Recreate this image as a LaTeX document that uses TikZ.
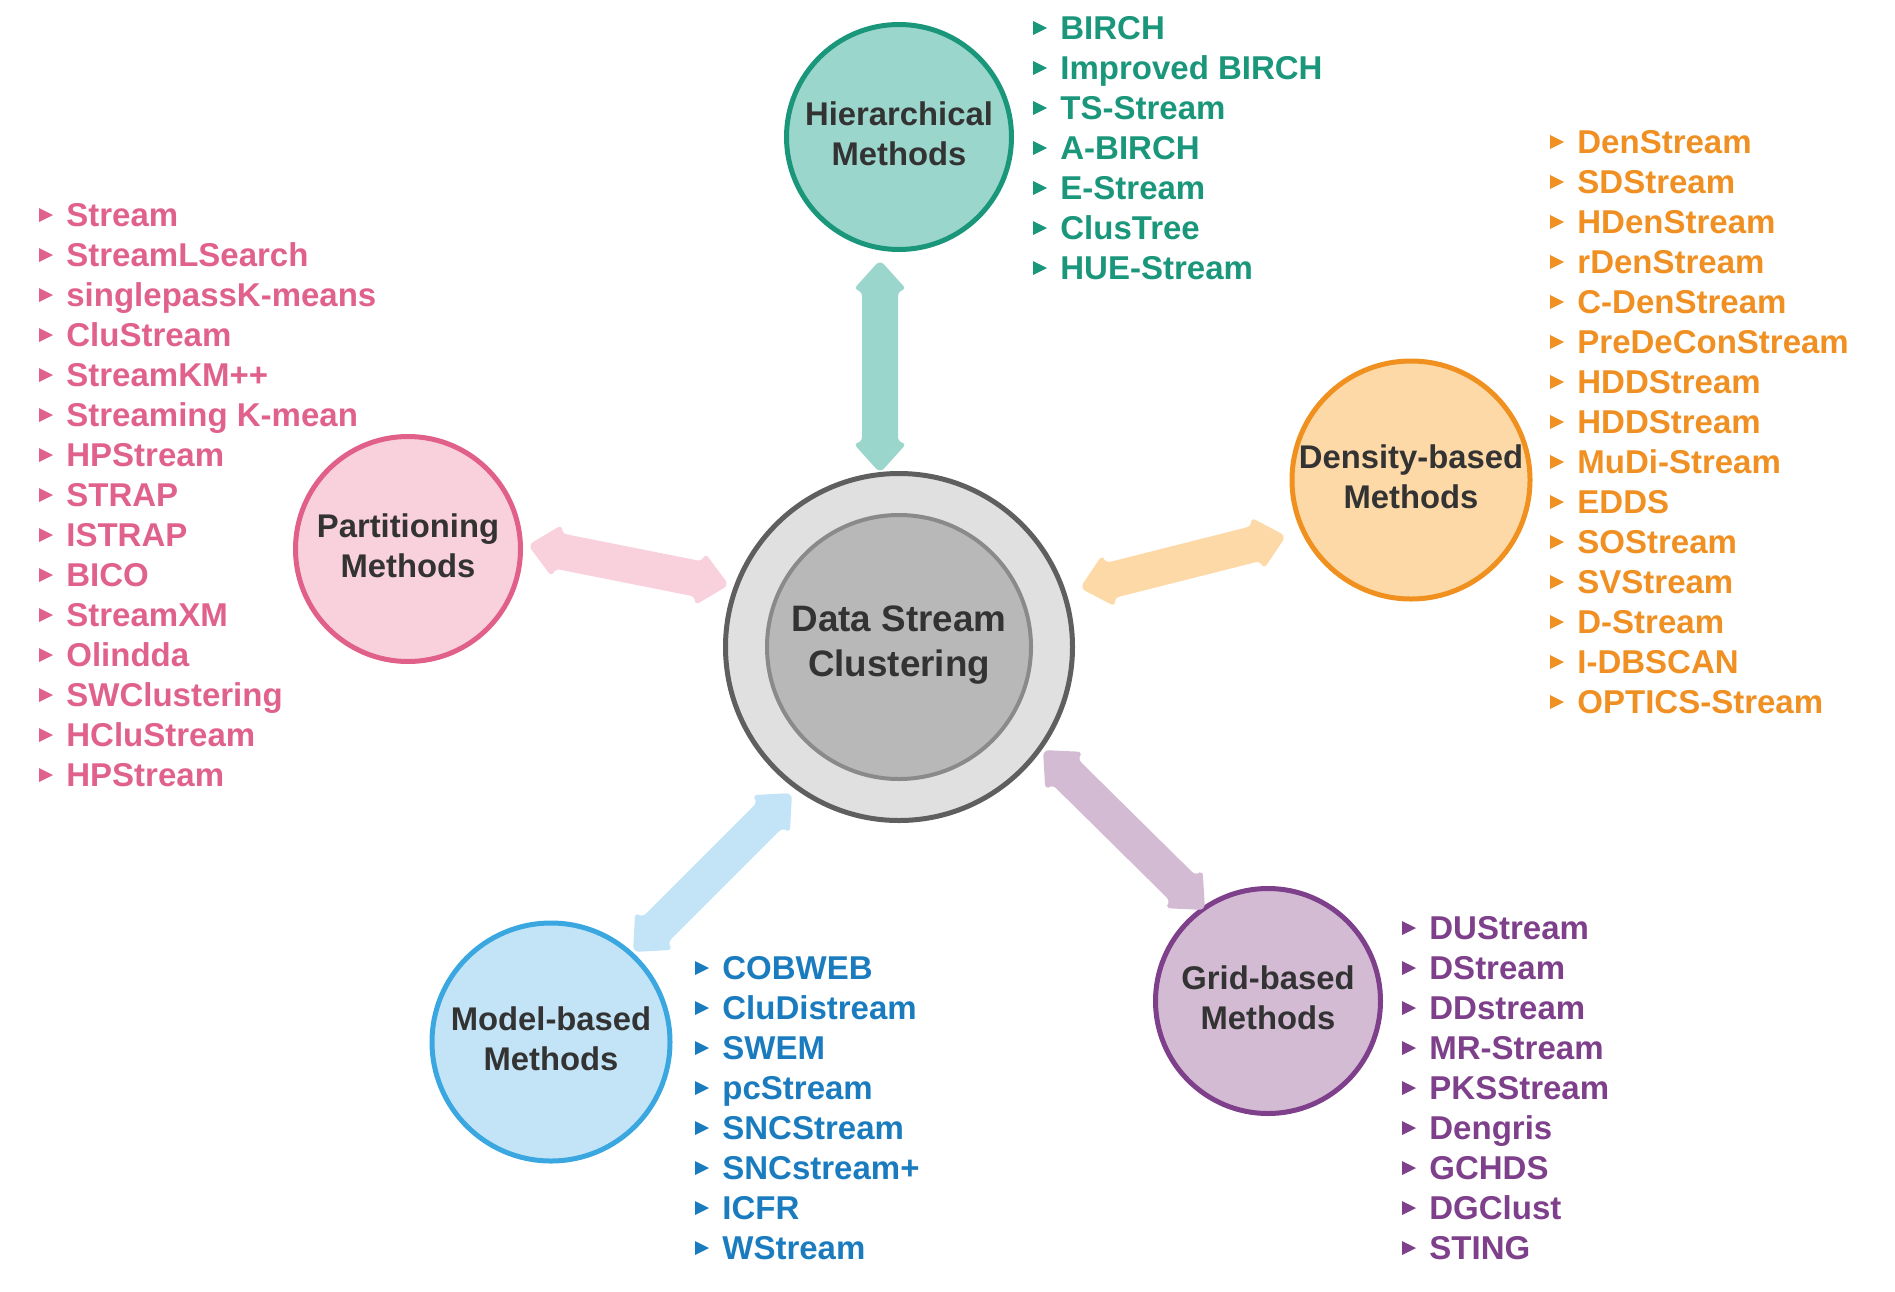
\documentclass[tikz,border=0pt]{standalone}
\usepackage{fontspec}
\setmainfont{Liberation Sans}
\usetikzlibrary{calc, positioning}
\definecolor{cdark}{HTML}{333333}
\definecolor{hub}{HTML}{5F5F5F}
\definecolor{hubfill}{HTML}{E0E0E0}
\definecolor{core}{HTML}{8A8A8A}
\definecolor{corefill}{HTML}{B8B8B8}
\definecolor{hier}{HTML}{1A967A}
\definecolor{hierfill}{HTML}{9BD6CC}
\definecolor{hiertext}{HTML}{1A967A}
\definecolor{part}{HTML}{E0608A}
\definecolor{partfill}{HTML}{F9D1DD}
\definecolor{parttext}{HTML}{E0628C}
\definecolor{dens}{HTML}{F0901F}
\definecolor{densfill}{HTML}{FDD9A7}
\definecolor{denstext}{HTML}{F09023}
\definecolor{model}{HTML}{3BA7E0}
\definecolor{modelfill}{HTML}{C3E4F6}
\definecolor{modeltext}{HTML}{1A7CBF}
\definecolor{grid}{HTML}{7E3F8B}
\definecolor{gridfill}{HTML}{D3BBD3}
\definecolor{gridtext}{HTML}{7E3F8B}
\tikzset{
  every picture/.style={font=\bfseries},
  method/.style={circle, draw=#1, fill=#1fill, line width=2.5pt, minimum size=112.5pt, inner sep=0pt},
  bigmethod/.style={method=#1, minimum size=119pt},
  mtext/.style={text=cdark, align=center, inner sep=0pt, font=\bfseries\fontsize{16.4pt}{20pt}\selectfont},
  hubtext/.style={text=cdark, align=center, inner sep=0pt, font=\bfseries\fontsize{18.4pt}{22.5pt}\selectfont},
  item/.style={text=#1, anchor=base west, inner sep=0pt, font=\bfseries\fontsize{16.5pt}{20pt}\selectfont},
}
\newcommand{\twoway}[3]{
  \fill[#3, rounded corners=3pt] (#1)
    -- ($(#1)!15pt!(#2)!13.5pt!90:(#2)$) -- ($(#1)!15pt!(#2)!9pt!90:(#2)$)
    -- ($(#2)!15pt!(#1)!9pt!-90:(#1)$) -- ($(#2)!15pt!(#1)!13.5pt!-90:(#1)$)
    -- (#2)
    -- ($(#2)!15pt!(#1)!13.5pt!90:(#1)$) -- ($(#2)!15pt!(#1)!9pt!90:(#1)$)
    -- ($(#1)!15pt!(#2)!9pt!-90:(#2)$) -- ($(#1)!15pt!(#2)!13.5pt!-90:(#2)$)
    -- cycle;
}
\newcommand{\methodlist}[5]{
  \foreach \m [count=\i from 0] in {#5}{
    \node[item=#3text] (#4\i) at (#1,{#2+40*\i}) {\m};
    \fill[#3text] ($(#4\i.base west)+(-27,-18)$) -- ++(14,7) -- ++(-14,7) -- cycle;
  }
}

\begin{document}
\begin{tikzpicture}[x=0.5pt, y=-0.5pt]
  \useasboundingbox (0,0) rectangle (1895,1291);
  % centre
  \node[circle, draw=hub, fill=hubfill, line width=2.5pt, minimum size=173.5pt] (dsc) at (899,647) {};
  \node[circle, draw=core, fill=corefill, line width=2pt, minimum size=132pt] (dscin) at (dsc) {};
  \node[hubtext] (dsctext) at (899,645) {Data Stream\\Clustering};
  % the five families
  \node[method=hier] (hier) at (899,137) {};
  \node[mtext] (hiertext) at (899,134) {Hierarchical\\Methods};
  \node[method=part] (part) at (408,549) {};
  \node[mtext] (parttext) at (408,546) {Partitioning\\Methods};
  \node[bigmethod=dens] (dens) at (1411,480) {};
  \node[mtext] (denstext) at (1411,477) {Density-based\\Methods};
  \node[bigmethod=model] (model) at (551,1042) {};
  \node[mtext] (modeltext) at (551,1039) {Model-based\\Methods};
  \node[method=grid] (grid) at (1268,1001) {};
  \node[mtext] (gridtext) at (1268,998) {Grid-based\\Methods};
  % arrows
  \coordinate (hierA) at (880,260);
  \coordinate (hierB) at (880,473);
  \coordinate (partA) at (528,545);
  \coordinate (partB) at (729,585);
  \coordinate (densA) at (1080,588);
  \coordinate (densB) at (1286,536);
  \coordinate (modelA) at (792,793);
  \coordinate (modelB) at (633,952);
  \coordinate (gridA) at (1043,750);
  \coordinate (gridB) at (1205,910);
  \twoway{hierA}{hierB}{hierfill}
  \twoway{partA}{partB}{partfill}
  \twoway{densA}{densB}{densfill}
  \twoway{modelA}{modelB}{modelfill}
  \twoway{gridA}{gridB}{gridfill}
  % lists
  \methodlist{1060}{39}{hier}{hl}{BIRCH, Improved BIRCH, TS-Stream, A-BIRCH, E-Stream, ClusTree, HUE-Stream}
  \methodlist{66}{226}{part}{pl}{Stream, StreamLSearch, singlepassK-means, CluStream, StreamKM++, Streaming K-mean, HPStream, STRAP, ISTRAP, BICO, StreamXM, Olindda, SWClustering, HCluStream, HPStream}
  \methodlist{1577}{153}{dens}{dl}{DenStream, SDStream, HDenStream, rDenStream, C-DenStream, PreDeConStream, HDDStream, HDDStream, MuDi-Stream, EDDS, SOStream, SVStream, D-Stream, I-DBSCAN, OPTICS-Stream}
  \methodlist{722}{979}{model}{ml}{COBWEB, CluDistream, SWEM, pcStream, SNCStream, SNCstream+, ICFR, WStream}
  \methodlist{1429}{939}{grid}{gl}{DUStream, DStream, DDstream, MR-Stream, PKSStream, Dengris, GCHDS, DGClust, STING}
\end{tikzpicture}
\end{document}
